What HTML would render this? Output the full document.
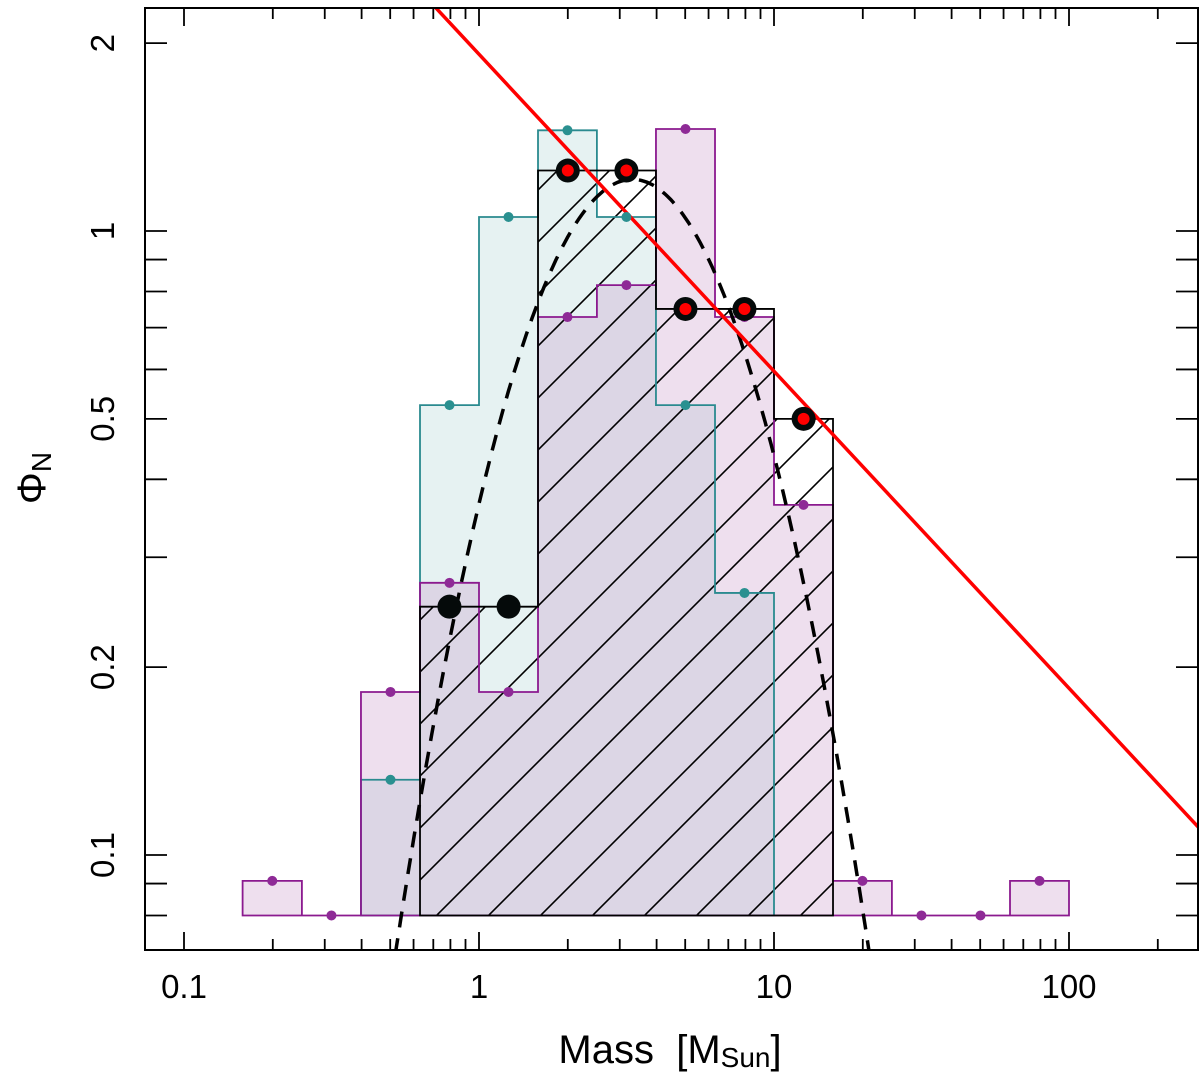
<!DOCTYPE html>
<html><head><meta charset="utf-8"><style>
html,body{margin:0;padding:0;background:#fff;overflow:hidden;width:1200px;height:1082px;}
svg{display:block;font-family:"Liberation Sans",Arial,sans-serif;}
</style></head><body>
<svg id="chart" width="1200" height="1082" viewBox="0 0 1200 1082" xmlns="http://www.w3.org/2000/svg">
<defs>
<clipPath id="plotclip"><rect x="145" y="8" width="1053" height="942"/></clipPath>
<pattern id="hatch" patternUnits="userSpaceOnUse" width="52" height="52">
<path d="M-13,13 L13,-13 M0,52 L52,0 M39,65 L65,39" stroke="#000" stroke-width="1.6"/>
</pattern>
</defs>
<g id="plot" clip-path="url(#plotclip)"></g>
<g id="axes"></g>
</svg>
<script>
const binEdges=[0.158,0.251,0.398,0.631,1,1.585,2.51,3.98,6.31,10,15.85,25.1,39.8,63.1,100];
const purpleVals=[0.0909,0.08,0.1825,0.273,0.1825,0.728,0.819,1.457,0.728,0.364,0.0909,0.08,0.08,0.0909];
const tealEdges=[0.398,0.631,1,1.585,2.51,3.98,6.31,10];
const tealVals=[0.132,0.526,1.053,1.45,1.053,0.526,0.263];
const blackEdges=[0.631,1.585,3.98,10,15.85];
const blackVals=[0.25,1.25,0.75,0.5];
const blackPtsM=[0.794,1.26,2.0,3.16,5.01,7.94,12.6];
const blackPtsV=[0.25,0.25,1.25,1.25,0.75,0.75,0.5];
const blackPtsRed=[false,false,true,true,true,true,true];
const powerLawA=1.92, powerLawSlope=-0.508;
const lognPeak=1.21, lognMu=0.52, lognSigma=0.51;
const xTicks=[0.1,1,10,100];
const xTickLabels=["0.1","1","10","100"];
const yTicks=[0.1,0.2,0.5,1,2];
const yTickLabels=["0.1","0.2","0.5","1","2"];
const baseV=0.08;

const NS="http://www.w3.org/2000/svg";
const X=m=>479+295*Math.log10(m);
const Y=v=>231-624*Math.log10(v);
const plot=document.getElementById('plot'), axes=document.getElementById('axes');
function mk(tag,attrs,parent){const e=document.createElementNS(NS,tag);for(const k in attrs)e.setAttribute(k,attrs[k]);parent.appendChild(e);return e;}
function stepPath(edges,vals){let d=`M${X(edges[0])},${Y(baseV)}`;for(let i=0;i<vals.length;i++){d+=` L${X(edges[i])},${Y(vals[i])} L${X(edges[i+1])},${Y(vals[i])}`;}d+=` L${X(edges[edges.length-1])},${Y(baseV)} Z`;return d;}
const tf=mk('path',{d:stepPath(tealEdges,tealVals),fill:'#e6f2f2',stroke:'none'},plot);


const pf=mk('path',{d:stepPath(binEdges,purpleVals),fill:'#c896c8','fill-opacity':0.3,stroke:'none'},plot);


const hp=mk('path',{d:stepPath(blackEdges,blackVals),fill:'url(#hatch)',stroke:'none'},plot);


const tp=mk('path',{d:stepPath(tealEdges,tealVals),fill:'none',stroke:'#2a8a8f','stroke-width':1.8},plot);


const pp=mk('path',{d:stepPath(binEdges,purpleVals),fill:'none',stroke:'#8b1a8f','stroke-width':1.8},plot);


const bp=mk('path',{d:stepPath(blackEdges,blackVals),fill:'none',stroke:'#000','stroke-width':1.8},plot);


let dd='';for(let lm=-0.4;lm<=1.5;lm+=0.01){const v=lognPeak*Math.pow(10,-Math.pow(lm-lognMu,2)/(2*lognSigma*lognSigma));dd+=(dd?' L':'M')+X(Math.pow(10,lm)).toFixed(1)+','+Y(v).toFixed(1);}
const dl=mk('path',{d:dd,fill:'none',stroke:'#000','stroke-width':3.5,'stroke-dasharray':'16,11'},plot);


const m1=0.5,m2=300;
const rl=mk('line',{x1:X(m1),y1:Y(powerLawA*Math.pow(m1,powerLawSlope)),x2:X(m2),y2:Y(powerLawA*Math.pow(m2,powerLawSlope)),stroke:'#f00','stroke-width':3.5},plot);


function centers(edges){return edges.slice(0,-1).map((e,i)=>Math.sqrt(e*edges[i+1]));}
centers(tealEdges).forEach((m,i)=>{const c=mk('circle',{cx:X(m),cy:Y(tealVals[i]),r:5,fill:'#2a9090'},plot);});
centers(binEdges).forEach((m,i)=>{const c=mk('circle',{cx:X(m),cy:Y(purpleVals[i]),r:5,fill:'#8e2a96'},plot);});
blackPtsM.forEach((m,i)=>{const c=mk('circle',{cx:X(m),cy:Y(blackPtsV[i]),r:12,fill:'#050a0a'},plot);
 if(blackPtsRed[i]){const r=mk('circle',{cx:X(m),cy:Y(blackPtsV[i]),r:6,fill:'#f00'},plot);}});
const fr=mk('rect',{x:145,y:8,width:1053,height:942,fill:'none',stroke:'#000','stroke-width':2},axes);


for(let d=0.1;d<1000;d*=10){for(let k=1;k<10;k++){const m=d*k;const x=X(m);if(x<145||x>1198)continue;const L=k==1?18:11;
 const t1=mk('line',{x1:x,y1:950,x2:x,y2:950-L,stroke:'#000','stroke-width':1.8},axes);
 const t2=mk('line',{x1:x,y1:8,x2:x,y2:8+L,stroke:'#000','stroke-width':1.8},axes);}}
xTicks.forEach((m,i)=>{const t=mk('text',{x:X(m),y:998,'font-size':33,'text-anchor':'middle',fill:'#000'},axes);t.textContent=xTickLabels[i];});
for(let d=0.01;d<10;d*=10){for(let k=1;k<10;k++){const v=d*k;const y=Y(v);if(y<8||y>950)continue;
 const t1=mk('line',{x1:145,y1:y,x2:167,y2:y,stroke:'#000','stroke-width':1.8},axes);
 const t2=mk('line',{x1:1198,y1:y,x2:1176,y2:y,stroke:'#000','stroke-width':1.8},axes);}}
yTicks.forEach((v,i)=>{const t=mk('text',{x:0,y:0,'font-size':33,'text-anchor':'middle',fill:'#000',transform:`translate(114,${Y(v)}) rotate(-90)`},axes);t.textContent=yTickLabels[i];});
const xt=mk('text',{x:670,y:1063,'font-size':40,'text-anchor':'middle',fill:'#000',style:'white-space:pre'},axes);

xt.innerHTML='Mass  [M<tspan font-size="28" dy="4">Sun</tspan><tspan dy="-4">]</tspan>';
const yt=mk('text',{x:0,y:0,'font-size':40,'text-anchor':'middle',fill:'#000',transform:'translate(45,478) rotate(-90)'},axes);

yt.innerHTML='Φ<tspan font-size="28" dy="6">N</tspan>';
</script>
</body></html>
